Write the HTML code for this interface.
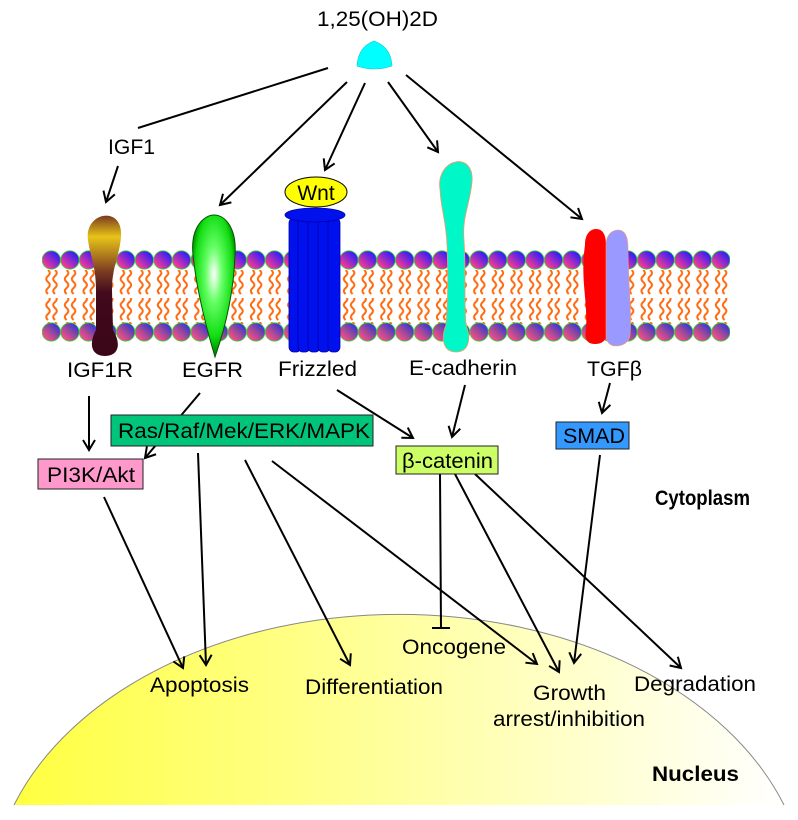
<!DOCTYPE html>
<html><head><meta charset="utf-8"><style>
html,body{margin:0;padding:0;background:#fff;}
svg{display:block;}
text{font-family:"Liberation Sans",Arial,sans-serif;fill:#000;}
</style></head><body>
<svg width="798" height="820" viewBox="0 0 798 820" xmlns="http://www.w3.org/2000/svg">
<defs>
<linearGradient id="nuc" x1="0" y1="0" x2="1" y2="0">
<stop offset="0" stop-color="#ffff40"/><stop offset="0.5" stop-color="#ffffa0"/><stop offset="1" stop-color="#ffffff"/>
</linearGradient>
<linearGradient id="headT" x1="1" y1="0" x2="0" y2="1">
<stop offset="0.15" stop-color="#2a1cff"/><stop offset="0.85" stop-color="#ff3a90"/>
</linearGradient>
<linearGradient id="headB" x1="1" y1="0" x2="0" y2="1">
<stop offset="0.1" stop-color="#2a30e0"/><stop offset="0.5" stop-color="#9a4a9a"/><stop offset="0.85" stop-color="#ff4a8a"/>
</linearGradient>
<pattern id="heads" patternUnits="userSpaceOnUse" x="42" y="0" width="18.6" height="820">
<circle cx="9.3" cy="260" r="9.2" fill="url(#headT)" stroke="#33dd33" stroke-width="0.8"/>
<circle cx="9.3" cy="332" r="9.2" fill="url(#headB)" stroke="#33dd33" stroke-width="0.8"/>
</pattern>
<pattern id="tails" patternUnits="userSpaceOnUse" x="42" y="270" width="18.6" height="26">
<path d="M6,0 q3.5,3 0,6 q-3.5,3 0,6 q3.5,3 0,6 q-3.5,3 0,6" fill="none" stroke="#ff6a10" stroke-width="2"/>
<path d="M13,0 q3.5,3 0,6 q-3.5,3 0,6 q3.5,3 0,6 q-3.5,3 0,6" fill="none" stroke="#ff6a10" stroke-width="2"/>
</pattern>
<linearGradient id="igf" x1="0" y1="0" x2="0" y2="1">
<stop offset="0" stop-color="#7a3a20"/><stop offset="0.15" stop-color="#e8c418"/><stop offset="0.4" stop-color="#7a3a22"/><stop offset="0.55" stop-color="#420a1c"/><stop offset="1" stop-color="#3a0618"/>
</linearGradient>
<radialGradient id="egf" cx="0.5" cy="0.42" r="0.55">
<stop offset="0" stop-color="#ffffff"/><stop offset="0.35" stop-color="#66ff66"/><stop offset="0.8" stop-color="#11dd11"/><stop offset="1" stop-color="#008800"/>
</radialGradient>
<marker id="ar" markerWidth="14" markerHeight="14" refX="11" refY="7" orient="auto" markerUnits="userSpaceOnUse">
<path d="M1,1 L11,7 L1,13" fill="none" stroke="#000" stroke-width="2"/>
</marker>
</defs>

<path d="M14,805 A408,285 0 0 1 784,805 Z" fill="url(#nuc)"/>
<path d="M14,805 A408,285 0 0 1 784,805" fill="none" stroke="#888" stroke-width="1"/>

<rect x="42" y="270" width="688" height="26" fill="url(#tails)"/>
<rect x="42" y="298" width="688" height="26" fill="url(#tails)"/>
<rect x="42" y="250" width="688" height="92" fill="url(#heads)"/>

<path d="M357,66 Q358,47 374,41 Q391,47 392,66 Q374,72 357,66 Z" fill="#00ffff" stroke="#00cccc" stroke-width="0.6"/>

<path d="M88,240 C84,212 123,205 121,236 C120,255 112,266 112,290 L113,330 C122,345 118,356 105,356 C92,356 88,345 96,330 L96,290 C96,266 90,256 88,240 Z" fill="url(#igf)"/>
<path d="M193,255 C190,226 205,215 214,215 C225,215 237,228 235,255 C234,285 228,320 215,357 C204,320 196,285 193,255 Z" fill="url(#egf)" stroke="#005500" stroke-width="1"/>
<g fill="#0011ee" stroke="#0000aa" stroke-width="0.8">
<rect x="289" y="218" width="12" height="134" rx="5"/>
<rect x="298" y="218" width="12" height="134" rx="5"/>
<rect x="308" y="218" width="12" height="134" rx="5"/>
<rect x="318" y="218" width="12" height="134" rx="5"/>
<rect x="328" y="218" width="12" height="134" rx="5"/>
<ellipse cx="315" cy="215" rx="30" ry="7"/>
</g>
<ellipse cx="316" cy="192" rx="31" ry="15" fill="#ffff00" stroke="#000" stroke-width="1"/>
<text x="316" y="200" font-size="21" text-anchor="middle">Wnt</text>
<path d="M440,190 C435,158 475,150 472,182 C470,205 462,216 464,240 C466,270 464,300 466,325 C472,340 468,352 456,352 C444,352 440,340 446,325 C448,300 448,270 447,245 C446,220 441,210 440,190 Z" fill="#00f7c8" stroke="#ff9966" stroke-width="0.8"/>
<path d="M585,245 C585,232 592,229 596,229 C603,229 606,235 606,245 L606,335 C606,342 600,344 595,344 C588,344 584,340 586,330 C588,300 580,280 585,245 Z" fill="#ff0000"/>
<path d="M606,245 C606,235 612,230 618,230 C626,230 628,238 628,248 C628,280 632,310 630,335 C629,343 622,346 616,346 C610,346 606,342 606,335 Z" fill="#9999ff" stroke="#ff9966" stroke-width="0.6"/>

<g stroke="#000" stroke-width="2" fill="none">
<line x1="328" y1="68" x2="138" y2="128"/>
<line x1="347" y1="82" x2="220" y2="205" marker-end="url(#ar)"/>
<line x1="365" y1="83" x2="325" y2="170" marker-end="url(#ar)"/>
<line x1="388" y1="82" x2="438" y2="152" marker-end="url(#ar)"/>
<line x1="406" y1="75" x2="582" y2="219" marker-end="url(#ar)"/>
<line x1="118" y1="166" x2="106" y2="202" marker-end="url(#ar)"/>
<line x1="89" y1="396" x2="89" y2="450" marker-end="url(#ar)"/>
<line x1="200" y1="393" x2="145" y2="458" marker-end="url(#ar)"/>
<line x1="337" y1="390" x2="413" y2="438" marker-end="url(#ar)"/>
<line x1="465" y1="385" x2="452" y2="437" marker-end="url(#ar)"/>
<line x1="610" y1="383" x2="602" y2="413" marker-end="url(#ar)"/>
<line x1="104" y1="497" x2="183" y2="668" marker-end="url(#ar)"/>
<line x1="198" y1="453" x2="206" y2="665" marker-end="url(#ar)"/>
<line x1="245" y1="460" x2="350" y2="665" marker-end="url(#ar)"/>
<line x1="272" y1="461" x2="537" y2="664" marker-end="url(#ar)"/>
<line x1="440" y1="474" x2="441" y2="628"/>
<line x1="432" y1="628" x2="450" y2="628"/>
<line x1="455" y1="474" x2="559" y2="672" marker-end="url(#ar)"/>
<line x1="475" y1="474" x2="681" y2="668" marker-end="url(#ar)"/>
<line x1="600" y1="455" x2="574" y2="663" marker-end="url(#ar)"/>
</g>

<rect x="111" y="415" width="262" height="31" fill="#00c47a" stroke="#222" stroke-width="1"/>
<text x="118" y="438" font-size="21" textLength="252" lengthAdjust="spacingAndGlyphs">Ras/Raf/Mek/ERK/MAPK</text>
<rect x="38" y="459" width="105" height="30" fill="#ff99cc" stroke="#222" stroke-width="1"/>
<text x="47" y="482" font-size="21" textLength="88" lengthAdjust="spacingAndGlyphs">PI3K/Akt</text>
<rect x="396" y="446" width="102" height="28" fill="#ccff66" stroke="#222" stroke-width="1"/>
<text x="402" y="468" font-size="21" textLength="91" lengthAdjust="spacingAndGlyphs">β-catenin</text>
<rect x="556" y="422" width="73" height="27" fill="#3399ff" stroke="#222" stroke-width="1"/>
<text x="563" y="443" font-size="21" textLength="62" lengthAdjust="spacingAndGlyphs">SMAD</text>

<g font-size="21">
<text x="317" y="26" textLength="121" lengthAdjust="spacingAndGlyphs">1,25(OH)2D</text>
<text x="108" y="154" textLength="47" lengthAdjust="spacingAndGlyphs">IGF1</text>
<text x="67" y="377" textLength="66" lengthAdjust="spacingAndGlyphs">IGF1R</text>
<text x="182" y="377" textLength="61" lengthAdjust="spacingAndGlyphs">EGFR</text>
<text x="278" y="376" textLength="79" lengthAdjust="spacingAndGlyphs">Frizzled</text>
<text x="409" y="375" textLength="108" lengthAdjust="spacingAndGlyphs">E-cadherin</text>
<text x="587" y="376" textLength="55" lengthAdjust="spacingAndGlyphs">TGFβ</text>
<text x="402" y="654" textLength="104" lengthAdjust="spacingAndGlyphs">Oncogene</text>
<text x="150" y="692" textLength="99" lengthAdjust="spacingAndGlyphs">Apoptosis</text>
<text x="305" y="694" textLength="138" lengthAdjust="spacingAndGlyphs">Differentiation</text>
<text x="533" y="700" textLength="73" lengthAdjust="spacingAndGlyphs">Growth</text>
<text x="493" y="726" textLength="152" lengthAdjust="spacingAndGlyphs">arrest/inhibition</text>
<text x="634" y="691" textLength="122" lengthAdjust="spacingAndGlyphs">Degradation</text>
</g>
<g font-size="21" font-weight="bold">
<text x="655" y="505" textLength="95" lengthAdjust="spacingAndGlyphs">Cytoplasm</text>
<text x="652" y="781" textLength="87" lengthAdjust="spacingAndGlyphs">Nucleus</text>
</g>
</svg>
</body></html>
